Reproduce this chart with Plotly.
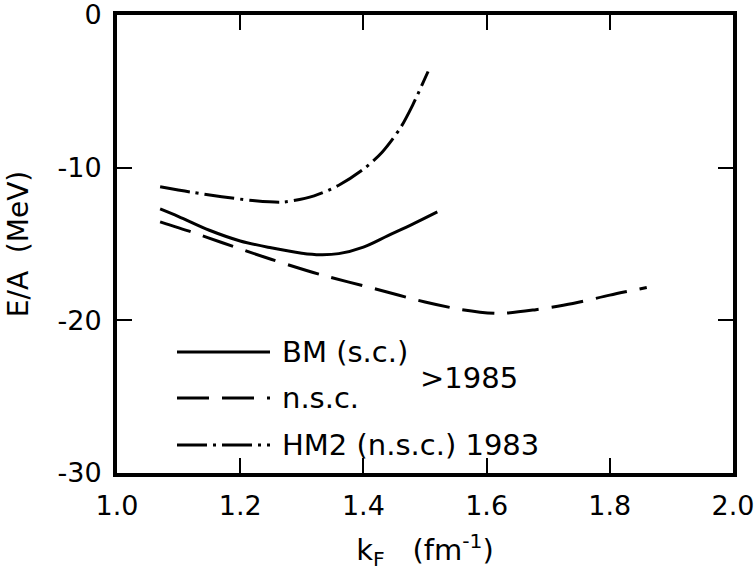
import plotly.graph_objects as go

# k_F (fm^-1) and E/A (MeV)
kF_bm = [1.07, 1.10, 1.15, 1.20, 1.25, 1.30, 1.33, 1.36, 1.40, 1.44, 1.48, 1.52]
E_bm = [-12.7, -13.2, -14.1, -14.8, -15.25, -15.6, -15.7, -15.63, -15.2, -14.45, -13.7, -12.9]

kF_nsc = [1.07, 1.12, 1.17, 1.25, 1.33, 1.42, 1.50, 1.56, 1.62, 1.68, 1.74, 1.80, 1.86]
E_nsc = [-13.55, -14.2, -14.9, -16.0, -17.0, -17.95, -18.8, -19.3, -19.55, -19.3, -18.9, -18.35, -17.85]

kF_hm2 = [1.07, 1.12, 1.17, 1.22, 1.27, 1.32, 1.36, 1.40, 1.43, 1.46, 1.48, 1.505]
E_hm2 = [-11.25, -11.6, -11.9, -12.15, -12.25, -11.85, -11.15, -10.1, -9.0, -7.4, -5.9, -3.7]

x_ticks = [1.0, 1.2, 1.4, 1.6, 1.8, 2.0]
x_ticktext = ["1.0", "1.2", "1.4", "1.6", "1.8", "2.0"]
y_ticks = [0, -10, -20, -30]
y_ticktext = ["0", "-10", "-20", "-30"]

legend_labels = ["BM (s.c.)", "n.s.c.", "HM2 (n.s.c.) 1983"]
bracket_label = ">1985"

FONT = "DejaVu Sans"
DASH_NSC = "32px,13px"
DASH_HM2 = "30px,6px,3px,6px"

fig = go.Figure()
fig.add_trace(go.Scatter(x=kF_bm, y=E_bm, mode="lines", line=dict(color="black", width=3, shape="spline", smoothing=1.0), showlegend=False))
fig.add_trace(go.Scatter(x=kF_nsc, y=E_nsc, mode="lines", line=dict(color="black", width=3, dash=DASH_NSC, shape="spline", smoothing=0.8), showlegend=False))
fig.add_trace(go.Scatter(x=kF_hm2, y=E_hm2, mode="lines", line=dict(color="black", width=3, dash=DASH_HM2, shape="spline", smoothing=0.8), showlegend=False))

L, R, T, B = 117, 21, 15, 111
W, H = 754, 584
pw, ph = W - L - R, H - T - B

def px2paper(px, py):
    return (px - L) / pw, (H - B - py) / ph

# legend keys and labels
keys = [(352, None), (398, DASH_NSC), (445, DASH_HM2)]
for (py, dash), label in zip(keys, legend_labels):
    x0, y0 = px2paper(177, py)
    x1, _ = px2paper(270, py)
    ln = dict(color="black", width=3)
    if dash:
        ln["dash"] = dash
    fig.add_shape(type="line", xref="paper", yref="paper", x0=x0, y0=y0, x1=x1, y1=y0, line=ln)
    tx, _ = px2paper(280, py)
    fig.add_annotation(xref="paper", yref="paper", x=tx, y=y0, text=label, showarrow=False,
                       xanchor="left", yanchor="middle", font=dict(family=FONT, size=29, color="black"))

bx, by = px2paper(418, 378)
fig.add_annotation(xref="paper", yref="paper", x=bx, y=by, text=bracket_label, showarrow=False,
                   xanchor="left", yanchor="middle", font=dict(family=FONT, size=29, color="black"))

axis_common = dict(showline=True, linecolor="black", linewidth=4, mirror="ticks",
                   ticks="inside", ticklen=15, tickwidth=2, tickcolor="black",
                   showgrid=False, zeroline=False, ticklabeloverflow="allow",
                   tickfont=dict(family=FONT, size=27, color="black"))

fig.update_xaxes(range=[1.0, 2.0], tickvals=x_ticks, ticktext=x_ticktext, ticklabelstandoff=6,
                 title=dict(text="k<sub>F</sub>   (fm<sup>-1</sup>)", font=dict(family=FONT, size=29, color="black"), standoff=20),
                 **axis_common)
fig.update_yaxes(range=[-30, 0], tickvals=y_ticks, ticktext=y_ticktext, ticklabelstandoff=6,
                 title=dict(text="E/A  (MeV)", font=dict(family=FONT, size=28, color="black"), standoff=22),
                 **axis_common)

fig.update_layout(width=W, height=H, margin=dict(l=L, r=R, t=T, b=B, autoexpand=False),
                  paper_bgcolor="white", plot_bgcolor="white", showlegend=False,
                  font=dict(family=FONT, color="black"))

fig.write_html("out.html")
